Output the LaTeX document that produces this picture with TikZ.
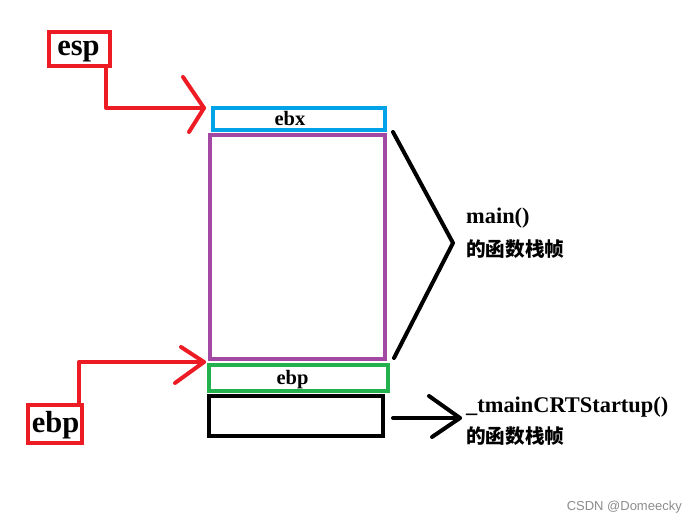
\documentclass[tikz,border=0pt]{standalone}
\usepackage{fontspec}
\setmainfont{Liberation Serif}
\newfontfamily\cjk{Noto Sans CJK SC}
\newfontfamily\wmfont{Liberation Sans}
\definecolor{pred}{RGB}{237,28,36}
\definecolor{pblue}{RGB}{0,162,232}
\definecolor{ppurple}{RGB}{163,73,164}
\definecolor{pgreen}{RGB}{34,177,76}
\begin{document}
\begin{tikzpicture}[x=1pt,y=-1pt,
  frame/.style={draw,line width=4pt,inner sep=0pt,outer sep=0pt,rectangle},
  bigtxt/.style={anchor=base,inner sep=0pt,font=\fontsize{30.5}{31}\selectfont\bfseries},
  celltxt/.style={anchor=base,inner sep=0pt,font=\fontsize{20.5}{21}\selectfont\bfseries},
  redline/.style={draw=pred,line width=4pt,line cap=round,line join=round},
  blkline/.style={draw=black,line width=4pt,line cap=round,line join=round},
  note/.style={anchor=base west,inner sep=0pt,font=\fontsize{22.4}{23}\selectfont\bfseries},
  cnote/.style={anchor=base west,inner sep=0pt,font=\fontsize{19.6}{20}\selectfont\cjk\bfseries}]
\useasboundingbox (0,0) rectangle (696,521);
% stack cells
\node[frame,draw=ppurple,minimum width=175pt,minimum height=224pt] (frame) at (297.5,247) {};
\node[frame,draw=pblue,minimum width=172pt,minimum height=22pt] (ebx) at (299,119) {};
\node[frame,draw=pgreen,minimum width=179pt,minimum height=26pt] (ebpcell) at (298.5,378) {};
\node[frame,draw=black,minimum width=174pt,minimum height=40pt] (caller) at (296,416) {};
\node[celltxt] (ebxt) at (290,126) {ebx};
\node[celltxt] (ebpcellt) at (292.5,384) {ebp};
% register labels
\node[frame,draw=pred,minimum width=61pt,minimum height=34pt] (esp) at (79.5,49) {};
\node[bigtxt] (espt) at (78.5,55.7) {esp};
\node[frame,draw=pred,minimum width=54pt,minimum height=38pt] (ebp) at (55,424) {};
\node[bigtxt] (ebpt) at (55.5,432) {ebp};
% esp connector
\coordinate (espdown) at (106,66);
\coordinate (espcorner) at (106,108);
\coordinate (esptip) at (204,108);
\draw[redline] (espdown) -- (espcorner) -- (esptip);
\draw[redline] (183,77) -- (esptip) -- (189,132);
% ebp connector
\coordinate (ebpup) at (79,405);
\coordinate (ebpcorner) at (79,362);
\coordinate (ebptip) at (204,362);
\draw[redline] (ebpup) -- (ebpcorner) -- (ebptip);
\draw[redline] (181,347) -- (ebptip) -- (175,383);
% main bracket
\coordinate (bt) at (393,132);
\coordinate (bapex) at (453,243);
\coordinate (bb) at (394,358);
\draw[blkline] (bt) -- (bapex) -- (bb);
% caller arrow
\coordinate (cs) at (393,418);
\coordinate (ctip) at (460,418);
\draw[blkline] (cs) -- (ctip);
\draw[blkline] (429,396) -- (ctip) -- (432,437);
% notes
\node[note] (mainl) at (466,224) {main()};
\node[cnote] (mainc) at (466,257) {的函数栈帧};
\node[note] (tmainl) at (466,412) {\_tmainCRTStartup()};
\node[cnote] (tmainc) at (466,443) {的函数栈帧};
\node[anchor=base east,inner sep=0pt,text=black!45,font=\fontsize{13}{14}\selectfont\wmfont] (wm) at (682,510) {CSDN @Domeecky};
\end{tikzpicture}
\end{document}
